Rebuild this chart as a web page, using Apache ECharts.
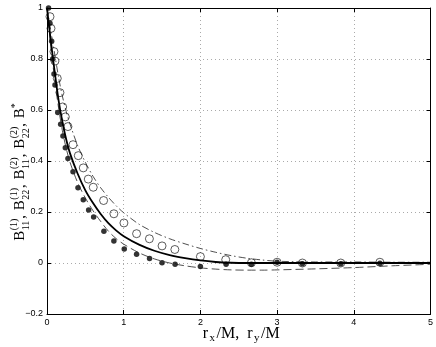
<!DOCTYPE html>
<html>
<head>
<meta charset="utf-8">
<script src="https://cdn.jsdelivr.net/npm/echarts@6/dist/echarts.min.js"></script>
<style>
  html, body { margin: 0; padding: 0; background: #fff; }
  #main { width: 436px; height: 347px; }
</style>
</head>
<body>
<div id="main"></div>
<script>
// x samples shared by the three curves
var lineX = [0, 0.05, 0.1, 0.15, 0.2, 0.25, 0.3, 0.4, 0.5, 0.6, 0.7, 0.8, 0.9, 1.0,
  1.2, 1.4, 1.6, 1.8, 2.0, 2.2, 2.4, 2.6, 2.8, 3.0, 3.5, 4.0, 4.5, 5.0];
var solidY = [1, 0.87, 0.75, 0.64, 0.555, 0.485, 0.43, 0.35, 0.285, 0.235, 0.192, 0.156, 0.128, 0.105,
  0.072, 0.048, 0.031, 0.019, 0.010, 0.004, 0.001, 0, 0, 0, 0, 0, 0, 0];
var dashDotY = [1, 0.91, 0.82, 0.73, 0.655, 0.595, 0.545, 0.46, 0.395, 0.34, 0.295, 0.258, 0.225, 0.197,
  0.152, 0.12, 0.095, 0.075, 0.057, 0.042, 0.029, 0.019, 0.012, 0.007, 0.004, 0.004, 0.003, 0.003];
var dashedY = [1, 0.85, 0.72, 0.61, 0.52, 0.45, 0.395, 0.315, 0.255, 0.205, 0.163, 0.125, 0.096, 0.074,
  0.04, 0.016, 0.0, -0.011, -0.019, -0.024, -0.027, -0.028, -0.028, -0.027, -0.023, -0.018, -0.011, -0.005];

// open circles
var openX = [0.039, 0.052, 0.091, 0.104, 0.134, 0.169, 0.204, 0.239, 0.273, 0.339, 0.408, 0.473, 0.538,
  0.603, 0.738, 0.872, 1.003, 1.168, 1.335, 1.5, 1.667, 2.0, 2.33, 2.665, 3.0, 3.33, 3.83, 4.34];
var openY = [0.966, 0.92, 0.829, 0.792, 0.724, 0.668, 0.612, 0.573, 0.535, 0.464, 0.421, 0.373, 0.329,
  0.297, 0.245, 0.193, 0.157, 0.115, 0.095, 0.067, 0.053, 0.025, 0.013, 0.001, 0.003, 0, 0, 0.003];

// filled circles
var filledX = [0.02, 0.039, 0.061, 0.074, 0.091, 0.104, 0.14, 0.178, 0.208, 0.239, 0.273, 0.339, 0.404,
  0.473, 0.543, 0.608, 0.742, 0.872, 1.007, 1.168, 1.337, 1.5, 1.67, 2.0, 2.335, 2.665, 3.0, 3.33, 3.83, 4.34];
var filledY = [1.0, 0.94, 0.87, 0.80, 0.741, 0.698, 0.59, 0.544, 0.498, 0.452, 0.41, 0.358, 0.295,
  0.248, 0.208, 0.18, 0.125, 0.086, 0.055, 0.034, 0.018, 0.001, -0.005, -0.014, -0.005, -0.005, 0.003, -0.003, -0.003, -0.001];

function pairs(xs, ys) {
  return xs.map(function (x, i) { return [x, ys[i]]; });
}

var chart = echarts.init(document.getElementById('main'), null, { renderer: 'canvas' });

// stacked super/subscript labels drawn as text pieces
var measure = document.createElement('canvas').getContext('2d');
function tw(t, size) {
  measure.font = size + 'px "Liberation Serif"';
  return measure.measureText(t).width;
}

function piece(text, x, y, size) {
  return { type: 'text', x: x, y: y, style: { text: text, font: size + 'px "Liberation Serif"', fill: '#000', verticalAlign: 'middle' } };
}

function yLabelChildren() {
  var big = 15, small = 10;
  var terms = [['(1)', '11'], ['(1)', '22'], ['(2)', '11'], ['(2)', '22']];
  var pieces = [];
  var cx = 0;
  terms.forEach(function (t) {
    pieces.push(piece('B', cx, 0, big)); cx += tw('B', big) + 0.5;
    pieces.push(piece(t[0], cx, -6, small));
    pieces.push(piece(t[1], cx, 6, small));
    cx += Math.max(tw(t[0], small), tw(t[1], small));
    pieces.push(piece(',', cx, 1, big)); cx += tw(', ', big) + 1;
  });
  pieces.push(piece('B', cx, 0, big)); cx += tw('B', big);
  pieces.push(piece('*', cx, -5, small)); cx += tw('*', small);
  pieces.forEach(function (p) { p.x -= cx / 2; });
  return pieces;
}

function xLabelChildren() {
  var big = 16, small = 11;
  var parts = [['r', 0], ['x', 1], ['/M,  r', 0], ['y', 1], ['/M', 0]];
  var pieces = [];
  var cx = 0;
  parts.forEach(function (p) {
    var size = p[1] ? small : big;
    pieces.push(piece(p[0], cx, p[1] ? 4 : 0, size));
    cx += tw(p[0], size) + 1.5;
  });
  pieces.forEach(function (p) { p.x -= cx / 2; });
  return pieces;
}

var tickFont = { color: '#000', fontSize: 9, fontFamily: '"Liberation Sans", Arial, sans-serif' };

var option = {
  animation: false,
  backgroundColor: '#fff',
  grid: { left: 47, right: 5, top: 8, bottom: 33, containLabel: false },
  xAxis: [{
    type: 'value', min: 0, max: 5, interval: 1,
    axisLine: { show: true, onZero: false, lineStyle: { color: '#000', width: 1 } },
    axisTick: { show: true, inside: true, length: 4, lineStyle: { color: '#000' } },
    axisLabel: Object.assign({ margin: 4 }, tickFont),
    splitLine: { show: true, lineStyle: { type: [1, 3], color: '#aaa', width: 1 } }
  }, {
    type: 'value', min: 0, max: 5, interval: 1, position: 'top',
    axisLine: { show: true, onZero: false, lineStyle: { color: '#000', width: 1 } },
    axisTick: { show: true, inside: true, length: 4, lineStyle: { color: '#000' } },
    axisLabel: { show: false }, splitLine: { show: false }
  }],
  yAxis: [{
    type: 'value', min: -0.2, max: 1, interval: 0.2,
    axisLine: { show: true, onZero: false, lineStyle: { color: '#000', width: 1 } },
    axisTick: { show: true, inside: true, length: 4, lineStyle: { color: '#000' } },
    axisLabel: Object.assign({
      margin: 4,
      formatter: function (v) { return String(Math.round(v * 10) / 10).replace('-', '\u2212'); }
    }, tickFont),
    splitLine: { show: true, lineStyle: { type: [1, 3], color: '#aaa', width: 1 } }
  }, {
    type: 'value', min: -0.2, max: 1, interval: 0.2, position: 'right',
    axisLine: { show: true, onZero: false, lineStyle: { color: '#000', width: 1 } },
    axisTick: { show: true, inside: true, length: 4, lineStyle: { color: '#000' } },
    axisLabel: { show: false }, splitLine: { show: false }
  }],
  graphic: [
    { type: 'group', x: 20, y: 172, rotation: Math.PI / 2, children: yLabelChildren() },
    { type: 'group', x: 242, y: 334, children: xLabelChildren() }
  ],
  series: [
    {
      type: 'line', data: pairs(lineX, dashDotY), smooth: 0.3, showSymbol: false,
      lineStyle: { color: '#222', width: 0.8, type: [7, 3, 1.5, 3] }
    },
    {
      type: 'line', data: pairs(lineX, dashedY), smooth: 0.3, showSymbol: false,
      lineStyle: { color: '#222', width: 0.8, type: [8, 4] }
    },
    {
      type: 'line', data: pairs(lineX, solidY), smooth: 0.3, showSymbol: false,
      lineStyle: { color: '#000', width: 1.8 }
    },
    {
      type: 'scatter', data: pairs(openX, openY), symbol: 'circle', symbolSize: 8,
      itemStyle: { color: 'rgba(255,255,255,0)', borderColor: '#000', borderWidth: 0.8 }
    },
    {
      type: 'scatter', data: pairs(filledX, filledY), symbol: 'circle', symbolSize: 5.5,
      itemStyle: { color: '#000' }
    }
  ]
};

chart.setOption(option);
</script>
</body>
</html>
